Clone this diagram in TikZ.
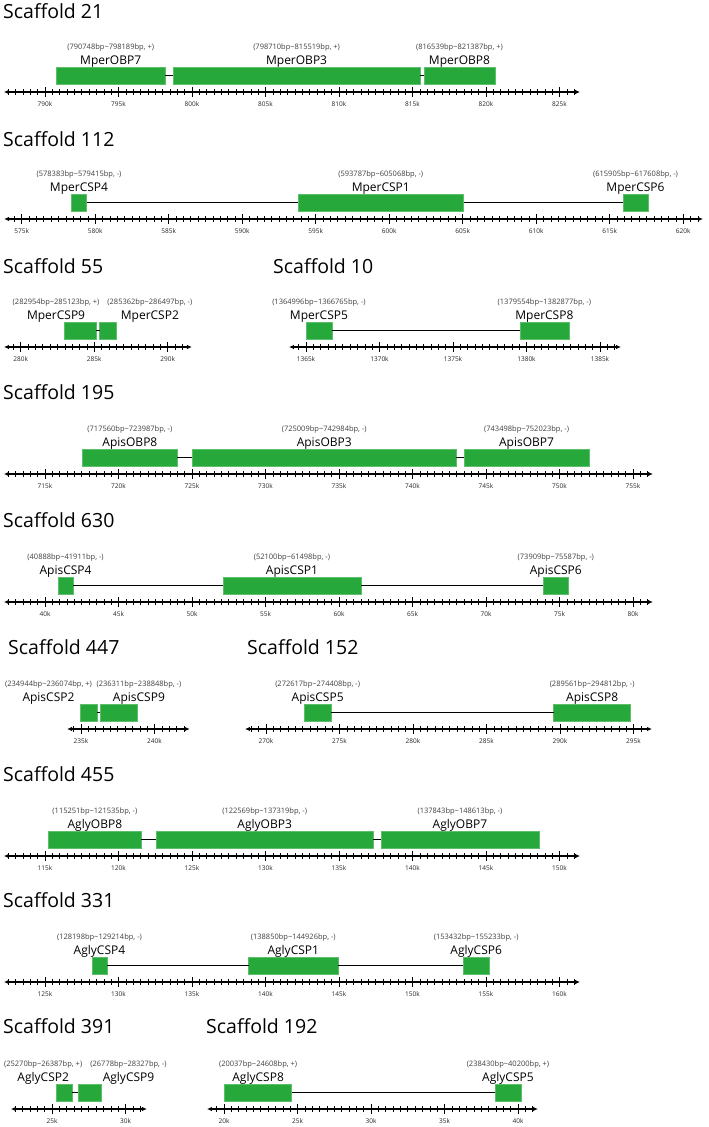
\documentclass[tikz,border=0pt]{standalone}
\usepackage{fontspec}
\setmainfont{Open Sans}
\usetikzlibrary{arrows.meta}
\definecolor{genegreen}{HTML}{27A83B}
\definecolor{posgray}{HTML}{404040}

% gene box + its two labels (positions in k, relative to \base)
\newcommand{\gene}[6][0]{%
  \pgfmathsetmacro\gStart{#4-\base}
  \pgfmathsetmacro\gEnd{#5-\base}
  \pgfmathsetmacro\gWidth{(#5-#4)*14.7}
  \pgfmathsetmacro\gMid{(\gStart+\gEnd)/2+#1/14.7}
  \node[genebox, minimum width=\gWidth pt] (#2) at ({(\gStart+\gEnd)/2},-16.5) {};
  \node[genename] (#2-name) at (\gMid,-28) {#3};
  \node[genepos] (#2-pos) at (\gMid,-43) {(#6)};
}
% scale bar: left end, right end (k), last labelled tick (k from \base)
\newcommand{\scaleaxis}[3]{%
  \pgfmathsetmacro\axL{#1-\base}
  \pgfmathsetmacro\axR{#2-\base}
  \draw[axisline] (\axL,0) -- (\axR,0);
  \pgfmathtruncatemacro\tA{ceil((\axL+0.3)*2)}
  \pgfmathtruncatemacro\tB{floor((\axR-0.3)*2)}
  \foreach \i in {\tA,...,\tB} \draw[minortick] (\i/2,-3) -- (\i/2,3);
  \foreach \v in {0,5,...,#3} {
    \draw[majortick] (\v,-5) -- (\v,5);
    \pgfmathtruncatemacro\lab{\base+\v}
    \node[ticklabel] (tick\lab) at (\v,14.5) {\lab k};
  }
}

\begin{document}
\begin{tikzpicture}[
    x=1pt, y=-1pt,
    scafftitle/.style={anchor=base west, inner sep=0pt, font=\fontsize{19.5}{21}\selectfont},
    genebox/.style={rectangle, fill=genegreen, draw=genegreen!75!white, line width=0.5pt,
      minimum height=17pt, inner sep=0pt, outer sep=0pt},
    genename/.style={anchor=base, inner sep=0pt, font=\fontsize{12}{13}\selectfont},
    genepos/.style={anchor=base, inner sep=0pt, text=posgray, font=\fontsize{7.5}{8}\selectfont},
    ticklabel/.style={anchor=base, inner sep=0pt, text=black!85, font=\fontsize{6.5}{7}\selectfont},
    axisline/.style={line width=1.2pt, {Latex[length=5pt,width=4.5pt]}-{Latex[length=5pt,width=4.5pt]}},
    majortick/.style={line width=1pt},
    minortick/.style={line width=0.6pt},
    intron/.style={line width=1.3pt},
  ]
  \useasboundingbox (0,0) rectangle (709,1127);

  % --- Scaffold 21 ---
  \node[scafftitle] (s21) at (3,19) {Scaffold 21};
  \begin{scope}[shift={(45,92)}, x=14.7pt]
    \def\base{790}
    \scaleaxis{787.2}{826.4}{35}
    \gene{mperobp7}{MperOBP7}{790.748}{798.189}{790748bp\textasciitilde798189bp, +}
    \gene{mperobp3}{MperOBP3}{798.710}{815.519}{798710bp\textasciitilde815519bp, +}
    \gene{mperobp8}{MperOBP8}{815.780}{820.610}{816539bp\textasciitilde821387bp, +}
    \draw[intron] (mperobp7.east) -- (mperobp3.west);
    \draw[intron] (mperobp3.east) -- (mperobp8.west);
  \end{scope}

  % --- Scaffold 112 ---
  \node[scafftitle] (s112) at (3,146) {Scaffold 112};
  \begin{scope}[shift={(21.7,219)}, x=14.7pt]
    \def\base{575}
    \scaleaxis{573.8}{621.35}{45}
    \gene{mpercsp4}{MperCSP4}{578.383}{579.415}{578383bp\textasciitilde579415bp, -}
    \gene{mpercsp1}{MperCSP1}{593.787}{605.068}{593787bp\textasciitilde605068bp, -}
    \gene{mpercsp6}{MperCSP6}{615.905}{617.608}{615905bp\textasciitilde617608bp, -}
    \draw[intron] (mpercsp4.east) -- (mpercsp1.west);
    \draw[intron] (mpercsp1.east) -- (mpercsp6.west);
  \end{scope}

  % --- Scaffold 55 ---
  \node[scafftitle] (s55) at (3,273) {Scaffold 55};
  \begin{scope}[shift={(20.7,347)}, x=14.7pt]
    \def\base{280}
    \scaleaxis{278.86}{291.65}{10}
    \gene[-24]{mpercsp9}{MperCSP9}{282.954}{285.123}{282954bp\textasciitilde285123bp, +}
    \gene[42]{mpercsp2}{MperCSP2}{285.362}{286.497}{285362bp\textasciitilde286497bp, -}
    \draw[intron] (mpercsp9.east) -- (mpercsp2.west);
  \end{scope}

  % --- Scaffold 10 ---
  \node[scafftitle] (s10) at (273,273) {Scaffold 10};
  \begin{scope}[shift={(306,347)}, x=14.7pt]
    \def\base{1365}
    \scaleaxis{1363.84}{1386.43}{20}
    \gene{mpercsp5}{MperCSP5}{1364.996}{1366.765}{1364996bp\textasciitilde1366765bp, -}
    \gene{mpercsp8}{MperCSP8}{1379.554}{1382.877}{1379554bp\textasciitilde1382877bp, -}
    \draw[intron] (mpercsp5.east) -- (mpercsp8.west);
  \end{scope}

  % --- Scaffold 195 ---
  \node[scafftitle] (s195) at (3,399) {Scaffold 195};
  \begin{scope}[shift={(45,474)}, x=14.7pt]
    \def\base{715}
    \scaleaxis{712.2}{756.36}{40}
    \gene{apisobp8}{ApisOBP8}{717.560}{723.987}{717560bp\textasciitilde723987bp, -}
    \gene{apisobp3}{ApisOBP3}{725.009}{742.984}{725009bp\textasciitilde742984bp, -}
    \gene{apisobp7}{ApisOBP7}{743.498}{752.023}{743498bp\textasciitilde752023bp, -}
    \draw[intron] (apisobp8.east) -- (apisobp3.west);
    \draw[intron] (apisobp3.east) -- (apisobp7.west);
  \end{scope}

  % --- Scaffold 630 ---
  \node[scafftitle] (s630) at (3,527) {Scaffold 630};
  \begin{scope}[shift={(45,602)}, x=14.7pt]
    \def\base{40}
    \scaleaxis{37.2}{81.36}{40}
    \gene{apiscsp4}{ApisCSP4}{40.888}{41.911}{40888bp\textasciitilde41911bp, -}
    \gene{apiscsp1}{ApisCSP1}{52.100}{61.498}{52100bp\textasciitilde61498bp, -}
    \gene{apiscsp6}{ApisCSP6}{73.909}{75.587}{73909bp\textasciitilde75587bp, -}
    \draw[intron] (apiscsp4.east) -- (apiscsp1.west);
    \draw[intron] (apiscsp1.east) -- (apiscsp6.west);
  \end{scope}

  % --- Scaffold 447 ---
  \node[scafftitle] (s447) at (8,654) {Scaffold 447};
  \begin{scope}[shift={(81,729)}, x=14.7pt]
    \def\base{235}
    \scaleaxis{234.05}{242.4}{5}
    \gene[-40]{apiscsp2}{ApisCSP2}{234.944}{236.074}{234944bp\textasciitilde236074bp, +}
    \gene[20]{apiscsp9}{ApisCSP9}{236.311}{238.848}{236311bp\textasciitilde238848bp, -}
    \draw[intron] (apiscsp2.east) -- (apiscsp9.west);
  \end{scope}

  % --- Scaffold 152 ---
  \node[scafftitle] (s152) at (247,654) {Scaffold 152};
  \begin{scope}[shift={(266,729)}, x=14.7pt]
    \def\base{270}
    \scaleaxis{268.57}{296.26}{25}
    \gene{apiscsp5}{ApisCSP5}{272.617}{274.408}{272617bp\textasciitilde274408bp, -}
    \gene{apiscsp8}{ApisCSP8}{289.561}{294.812}{289561bp\textasciitilde294812bp, -}
    \draw[intron] (apiscsp5.east) -- (apiscsp8.west);
  \end{scope}

  % --- Scaffold 455 ---
  \node[scafftitle] (s455) at (3,781) {Scaffold 455};
  \begin{scope}[shift={(45,856)}, x=14.7pt]
    \def\base{115}
    \scaleaxis{112.2}{151.4}{35}
    \gene{aglyobp8}{AglyOBP8}{115.251}{121.535}{115251bp\textasciitilde121535bp, -}
    \gene{aglyobp3}{AglyOBP3}{122.569}{137.319}{122569bp\textasciitilde137319bp, -}
    \gene{aglyobp7}{AglyOBP7}{137.843}{148.613}{137843bp\textasciitilde148613bp, -}
    \draw[intron] (aglyobp8.east) -- (aglyobp3.west);
    \draw[intron] (aglyobp3.east) -- (aglyobp7.west);
  \end{scope}

  % --- Scaffold 331 ---
  \node[scafftitle] (s331) at (3,907) {Scaffold 331};
  \begin{scope}[shift={(45,982)}, x=14.7pt]
    \def\base{125}
    \scaleaxis{122.2}{161.4}{35}
    \gene{aglycsp4}{AglyCSP4}{128.198}{129.214}{128198bp\textasciitilde129214bp, -}
    \gene{aglycsp1}{AglyCSP1}{138.850}{144.926}{138850bp\textasciitilde144926bp, -}
    \gene{aglycsp6}{AglyCSP6}{153.432}{155.233}{153432bp\textasciitilde155233bp, -}
    \draw[intron] (aglycsp4.east) -- (aglycsp1.west);
    \draw[intron] (aglycsp1.east) -- (aglycsp6.west);
  \end{scope}

  % --- Scaffold 391 ---
  \node[scafftitle] (s391) at (3,1033) {Scaffold 391};
  \begin{scope}[shift={(52,1109)}, x=14.7pt]
    \def\base{25}
    \scaleaxis{22.2}{31.46}{5}
    \gene[-21]{aglycsp2}{AglyCSP2}{25.270}{26.387}{25270bp\textasciitilde26387bp, +}
    \gene[39]{aglycsp9}{AglyCSP9}{26.778}{28.327}{26778bp\textasciitilde28327bp, -}
    \draw[intron] (aglycsp2.east) -- (aglycsp9.west);
  \end{scope}

  % --- Scaffold 192 ---
  \node[scafftitle] (s192) at (206,1033) {Scaffold 192};
  \begin{scope}[shift={(224,1109)}, x=14.7pt]
    \def\base{20}
    \scaleaxis{18.84}{41.36}{20}
    \gene{aglycsp8}{AglyCSP8}{20.037}{24.608}{20037bp\textasciitilde24608bp, +}
    \gene{aglycsp5}{AglyCSP5}{38.430}{40.200}{238430bp\textasciitilde40200bp, +}
    \draw[intron] (aglycsp8.east) -- (aglycsp5.west);
  \end{scope}
\end{tikzpicture}
\end{document}
